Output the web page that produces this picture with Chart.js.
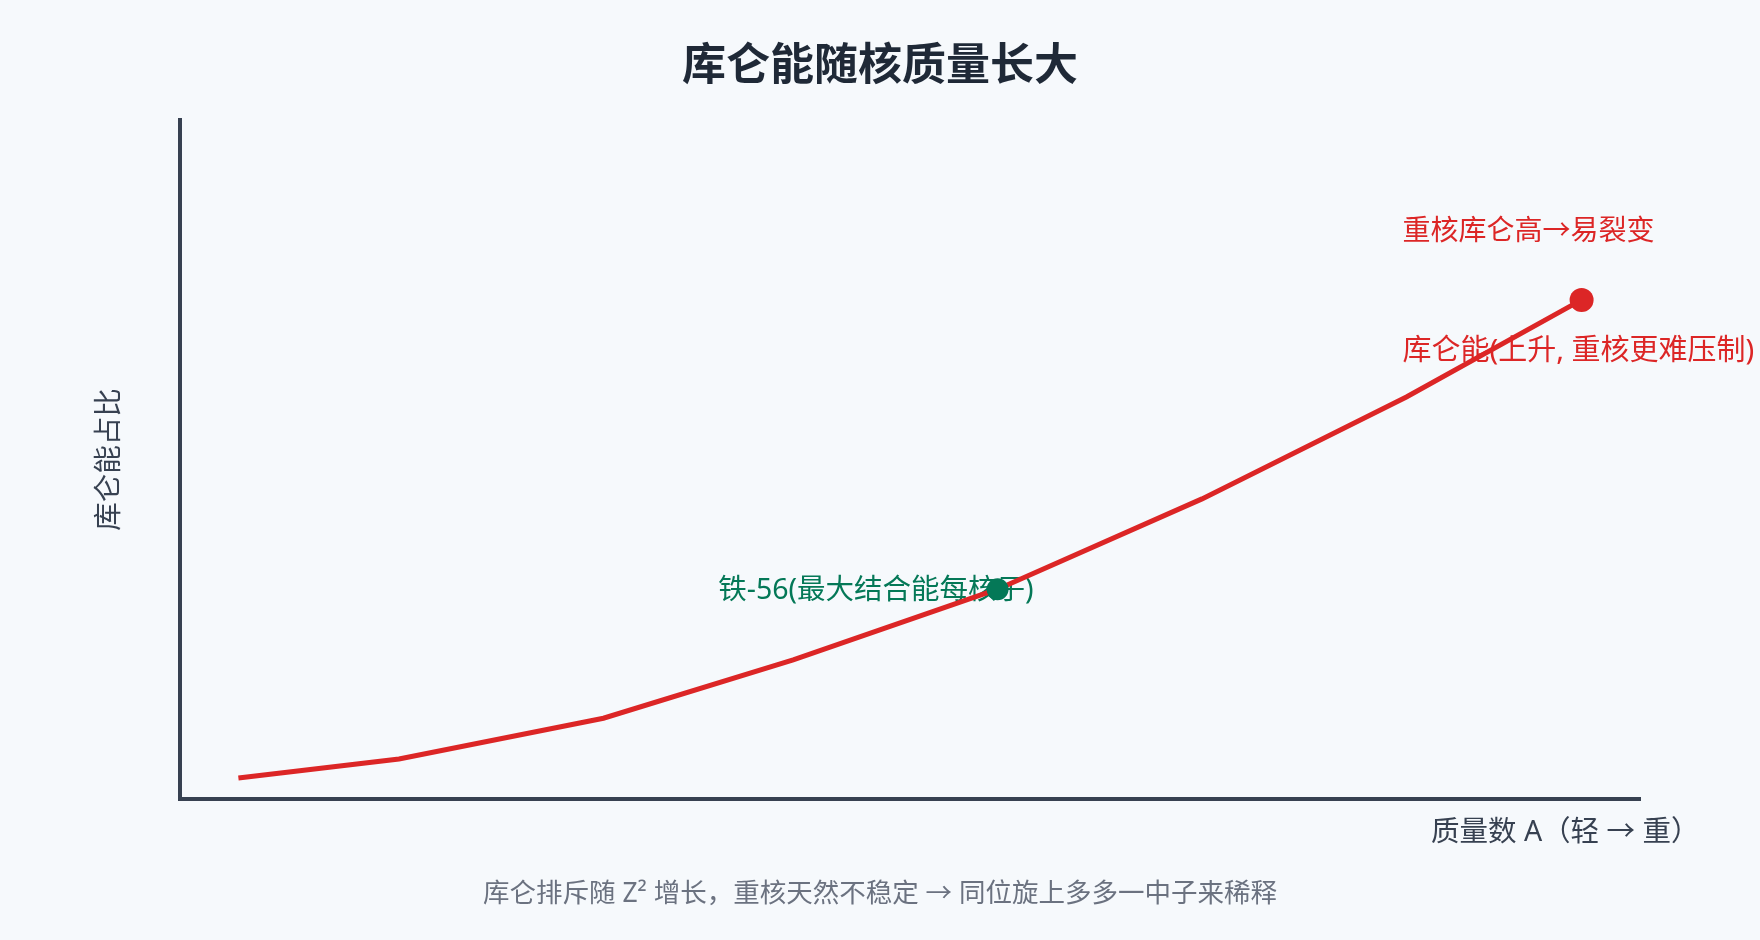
<!DOCTYPE html>
<html lang="zh">
<head>
<meta charset="utf-8">
<title>库仑能随核质量长大</title>
<script src="https://cdn.jsdelivr.net/npm/chart.js@4.4.1/dist/chart.umd.min.js"></script>
<style>
    html, body { margin: 0; padding: 0; background: #f6f9fc; }
    #wrap { width: 1760px; height: 940px; }
</style>
</head>
<body>
<div id="wrap"><canvas id="coulombChart" width="1760" height="940"></canvas></div>
<script>
// mass number position (relative, light -> heavy) and coulomb share
const massNumbers = [4, 15, 29, 42, 56, 70, 84, 96];
const coulombShare = [0.031, 0.059, 0.119, 0.205, 0.309, 0.442, 0.592, 0.735];
const ironIndex = 4;

const chartTitle = "库仑能随核质量长大";
const xTitle = "质量数 A（轻 → 重）";
const yTitle = "库仑能占比";
const caption = "库仑排斥随 Z² 增长，重核天然不稳定 → 同位旋上多多一中子来稀释";
const ironLabel = "铁-56(最大结合能每核子)";
const heavyLabel = "重核库仑高→易裂变";
const seriesLabel = "库仑能(上升, 重核更难压制)";

const RED = "#dc2626";
const GREEN = "#047857";
const AXIS = "#374151";
const FONT = "'Noto Sans', 'Noto Sans CJK SC', sans-serif";

const linePoints = massNumbers.map((a, i) => ({ x: a, y: coulombShare[i] }));
const lastIndex = linePoints.length - 1;

// text drawn under the line, like the original
const textPlugin = {
    id: "textPlugin",
    beforeDatasetsDraw(chart) {
        const ctx = chart.ctx;
        const xs = chart.scales.x;
        const ys = chart.scales.y;
        ctx.save();
        ctx.textBaseline = "middle";

        // iron label
        let px = xs.getPixelForValue(massNumbers[ironIndex]);
        let py = ys.getPixelForValue(coulombShare[ironIndex]);
        ctx.font = "28.5px " + FONT;
        ctx.fillStyle = GREEN;
        ctx.textAlign = "right";
        ctx.fillText(ironLabel, px + 36, py + 2);

        // heavy nucleus labels
        px = xs.getPixelForValue(massNumbers[lastIndex]);
        py = ys.getPixelForValue(coulombShare[lastIndex]);
        ctx.font = "28px " + FONT;
        ctx.fillStyle = RED;
        ctx.textAlign = "left";
        ctx.fillText(heavyLabel, px - 179, py - 68);
        ctx.font = "29px " + FONT;
        ctx.fillText(seriesLabel, px - 179, py + 52);
        ctx.restore();
    },
    afterDraw(chart) {
        const ctx = chart.ctx;
        const area = chart.chartArea;
        const w = chart.width;
        ctx.save();
        ctx.textBaseline = "middle";

        ctx.font = "bold 44px " + FONT;
        ctx.fillStyle = "#1f2937";
        ctx.textAlign = "center";
        ctx.fillText(chartTitle, w / 2, 67);

        ctx.font = "28.5px " + FONT;
        ctx.fillStyle = AXIS;
        ctx.textAlign = "left";
        ctx.fillText(xTitle, area.right - 209, area.bottom + 34);

        ctx.save();
        ctx.translate(110, (area.top + area.bottom) / 2);
        ctx.rotate(-Math.PI / 2);
        ctx.textAlign = "center";
        ctx.fillText(yTitle, 0, 0);
        ctx.restore();

        ctx.font = "26.5px " + FONT;
        ctx.fillStyle = "#6b7280";
        ctx.textAlign = "center";
        ctx.fillText(caption, w / 2, 894);
        ctx.restore();
    }
};

const ctx = document.getElementById("coulombChart").getContext("2d");
new Chart(ctx, {
    type: "line",
    data: {
        datasets: [
            {
                label: "铁-56",
                data: [linePoints[ironIndex]],
                showLine: false,
                pointRadius: 11,
                pointBackgroundColor: GREEN,
                pointBorderWidth: 0
            },
            {
                label: seriesLabel,
                data: linePoints,
                borderColor: RED,
                borderWidth: 5,
                tension: 0,
                fill: false,
                pointRadius: linePoints.map((p, i) => i === lastIndex ? 12 : 0),
                pointBackgroundColor: RED,
                pointBorderWidth: 0
            }
        ]
    },
    options: {
        responsive: false,
        animation: false,
        devicePixelRatio: 1,
        layout: { padding: { left: 180, right: 120, top: 120, bottom: 141 } },
        plugins: {
            legend: { display: false },
            tooltip: { enabled: false }
        },
        scales: {
            x: {
                type: "linear",
                min: 0,
                max: 100,
                ticks: { display: false },
                grid: { display: false, drawTicks: false },
                border: { display: true, color: AXIS, width: 4 }
            },
            y: {
                type: "linear",
                min: 0,
                max: 1,
                ticks: { display: false },
                grid: { display: false, drawTicks: false },
                border: { display: true, color: AXIS, width: 4 }
            }
        }
    },
    plugins: [textPlugin]
});
</script>
</body>
</html>
